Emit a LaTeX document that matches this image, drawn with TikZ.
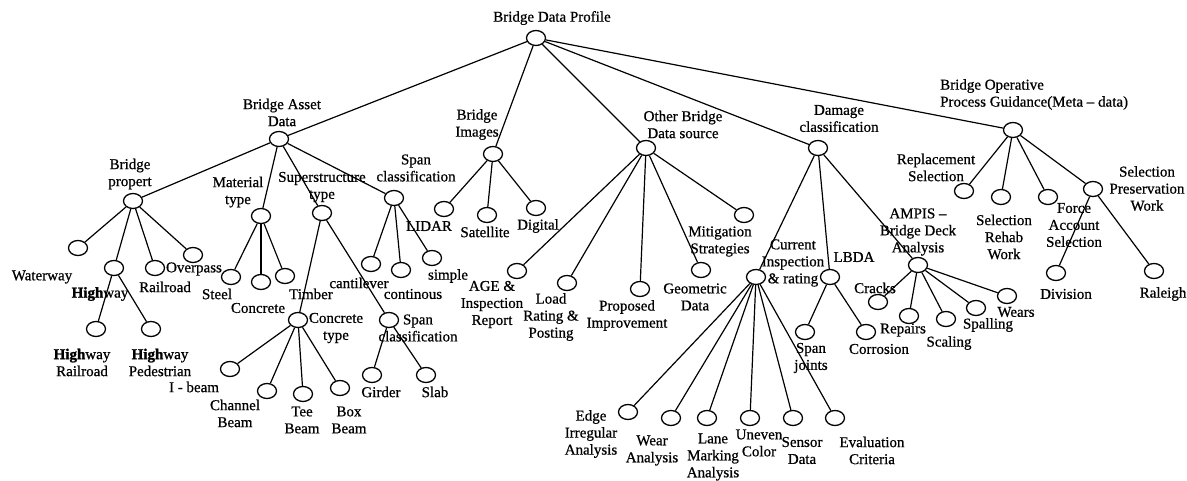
\documentclass[tikz,border=0pt]{standalone}
\usepackage{fontspec}
\setmainfont{Liberation Serif}[FakeBold=0.7, BoldFeatures={FakeBold=1.6}]
\usetikzlibrary{shapes.geometric}
\tikzset{
 dot/.style={draw, ellipse, minimum width=19pt, minimum height=15pt, inner sep=0pt, line width=1.3pt},
 lbl/.style={inner sep=0pt, align=center, font=\fontsize{15}{17}\selectfont},
 link/.style={line width=1.2pt},
}
\begin{document}
\begin{tikzpicture}[x=1pt,y=-1pt]
\useasboundingbox (0,0) rectangle (1187,480);
% circles
\node[dot] (root) at (536,38) {};
\node[dot] (bad) at (279,139) {};
\node[dot] (bp) at (133,201) {};
\node[dot] (ww) at (78,248) {};
\node[dot] (hw) at (114,268) {};
\node[dot] (rr) at (155,268) {};
\node[dot] (op) at (193,255) {};
\node[dot] (hwr) at (96,329) {};
\node[dot] (hwp) at (151,329) {};
\node[dot] (mt) at (261,216) {};
\node[dot] (steel) at (231,277) {};
\node[dot] (conc) at (261,282) {};
\node[dot] (timb) at (285,276) {};
\node[dot] (st) at (322,213) {};
\node[dot] (ct) at (298,320) {};
\node[dot] (sc2) at (389,320) {};
\node[dot] (sc1) at (394,198) {};
\node[dot] (cant) at (371,264) {};
\node[dot] (cont) at (401,270) {};
\node[dot] (simp) at (432,258) {};
\node[dot] (ib) at (230,369) {};
\node[dot] (chb) at (267,391) {};
\node[dot] (teb) at (303,394) {};
\node[dot] (boxb) at (340,388) {};
\node[dot] (gird) at (372,375) {};
\node[dot] (slab) at (426,375) {};
\node[dot] (bi) at (493,154) {};
\node[dot] (lidar) at (444,209) {};
\node[dot] (sat) at (487,215) {};
\node[dot] (dig) at (536,208) {};
\node[dot] (obd) at (646,148) {};
\node[dot] (mit) at (744,215) {};
\node[dot] (age) at (517,271) {};
\node[dot] (load) at (567,283) {};
\node[dot] (prop) at (640,289) {};
\node[dot] (geo) at (701,270) {};
\node[dot] (dc) at (818,148) {};
\node[dot] (cir) at (756,277) {};
\node[dot] (lbda) at (830,277) {};
\node[dot] (ampis) at (918,265) {};
\node[dot] (edge) at (628,412) {};
\node[dot] (wear) at (671,418) {};
\node[dot] (lane) at (707,418) {};
\node[dot] (unev) at (750,418) {};
\node[dot] (sens) at (793,418) {};
\node[dot] (eval) at (835,418) {};
\node[dot] (spj) at (805,332) {};
\node[dot] (corr) at (866,332) {};
\node[dot] (crack) at (878,302) {};
\node[dot] (rep) at (909,316) {};
\node[dot] (scal) at (946,319) {};
\node[dot] (spal) at (976,308) {};
\node[dot] (wears) at (1007,296) {};
\node[dot] (bop) at (1013,130) {};
\node[dot] (repl) at (964,191) {};
\node[dot] (reh) at (1001,197) {};
\node[dot] (force) at (1048,197) {};
\node[dot] (pres) at (1093,189) {};
\node[dot] (div) at (1056,273) {};
\node[dot] (ral) at (1154,271) {};
% connectors
\foreach \a/\b in {root/bad,root/bi,root/obd,root/dc,root/bop,
  bad/bp,bad/mt,bad/st,bad/sc1,
  bp/ww,bp/hw,bp/rr,bp/op,hw/hwr,hw/hwp,
  mt/steel,mt/conc,mt/timb,st/ct,st/sc2,
  sc1/cant,sc1/cont,sc1/simp,
  ct/ib,ct/chb,ct/teb,ct/boxb,sc2/gird,sc2/slab,
  bi/lidar,bi/sat,bi/dig,
  obd/age,obd/load,obd/prop,obd/geo,obd/mit,
  dc/cir,dc/lbda,dc/ampis,
  cir/edge,cir/wear,cir/lane,cir/unev,cir/sens,cir/eval,
  lbda/spj,lbda/corr,
  ampis/crack,ampis/rep,ampis/scal,ampis/spal,ampis/wears,
  bop/repl,bop/reh,bop/force,bop/pres,pres/div,pres/ral}
  \draw[link] (\a) -- (\b);
% labels
\node[lbl] (t-root) at (552,18) {Bridge Data Profile};
\node[lbl] (t-bad) at (282,112.5) {Bridge Asset\\Data};
\node[lbl] (t-bp) at (130,174) {Bridge\\propert};
\node[lbl] (t-ww) at (42,277) {Waterway};
\node[lbl] (t-hw) at (100,294) {\textbf{High}way};
\node[lbl] (t-rr) at (165,287) {Railroad};
\node[lbl] (t-op) at (194,269) {Overpass};
\node[lbl] (t-hwr) at (82,362.5) {\textbf{High}way\\Railroad};
\node[lbl] (t-hwp) at (160,362.5) {\textbf{High}way\\Pedestrian};
\node[lbl] (t-mt) at (238,192) {Material\\type};
\node[lbl] (t-st) at (322,187) {Superstructure\\type};
\node[lbl] (t-sc1) at (416,168) {Span\\classification};
\node[lbl] (t-steel) at (217,294) {Steel};
\node[lbl] (t-conc) at (258,308) {Concrete};
\node[lbl] (t-timb) at (311,294) {Timber};
\node[lbl] (t-ct) at (336,328) {Concrete\\type};
\node[lbl] (t-sc2) at (418,328) {Span\\classification};
\node[lbl] (t-cant) at (359,283) {cantilever};
\node[lbl] (t-cont) at (413,294) {continous};
\node[lbl] (t-simp) at (448,276) {simple};
\node[lbl] (t-ib) at (194,387) {I - beam};
\node[lbl] (t-chb) at (235,413.5) {Channel\\Beam};
\node[lbl] (t-teb) at (302,420) {Tee\\Beam};
\node[lbl] (t-boxb) at (349,420) {Box\\Beam};
\node[lbl] (t-gird) at (381,392) {Girder};
\node[lbl] (t-slab) at (435,392) {Slab};
\node[lbl] (t-bi) at (477,124.5) {Bridge\\Images};
\node[lbl] (t-lidar) at (429,226) {LIDAR};
\node[lbl] (t-sat) at (485,232) {Satellite};
\node[lbl] (t-dig) at (538,226) {Digital};
\node[lbl] (t-obd) at (683,124.5) {Other Bridge\\Data source};
\node[lbl] (t-mit) at (720,241.5) {Mitigation\\Strategies};
\node[lbl] (t-age) at (492,304.5) {AGE \&\\Inspection\\Report};
\node[lbl] (t-load) at (551,317) {Load\\Rating \&\\Posting};
\node[lbl] (t-prop) at (627,315.5) {Proposed\\Improvement};
\node[lbl] (t-geo) at (695,297) {Geometric\\Data};
\node[lbl] (t-dc) at (839,118.5) {Damage\\classification};
\node[lbl] (t-cir) at (793,263) {Current\\Inspection\\\& rating};
\node[lbl] (t-lbda) at (854,257) {LBDA};
\node[lbl] (t-ampis) at (918,232) {AMPIS –\\Bridge Deck\\Analysis};
\node[lbl] (t-edge) at (591,434) {Edge\\Irregular\\Analysis};
\node[lbl] (t-wear) at (652,450.5) {Wear\\Analysis};
\node[lbl] (t-lane) at (713,457) {Lane\\Marking\\Analysis};
\node[lbl] (t-unev) at (759,443) {Uneven\\Color};
\node[lbl] (t-sens) at (802,450.5) {Sensor\\Data};
\node[lbl] (t-eval) at (872,450.5) {Evaluation\\Criteria};
\node[lbl] (t-spj) at (811,358) {Span\\joints};
\node[lbl] (t-corr) at (879,349) {Corrosion};
\node[lbl] (t-crack) at (875,288) {Cracks};
\node[lbl] (t-rep) at (903,330) {Repairs};
\node[lbl] (t-scal) at (949,343) {Scaling};
\node[lbl] (t-spal) at (988,325) {Spalling};
\node[lbl] (t-wears) at (1016,312) {Wears};
\node[lbl, anchor=west, align=left] (t-bop) at (940,94.5) {Bridge Operative\\Process Guidance(Meta – data)};
\node[lbl] (t-repl) at (936,167.5) {Replacement\\Selection};
\node[lbl] (t-reh) at (1004,237) {Selection\\Rehab\\Work};
\node[lbl] (t-force) at (1074,225) {Force\\Account\\Selection};
\node[lbl] (t-pres) at (1147,188.5) {Selection\\Preservation\\Work};
\node[lbl] (t-div) at (1066,294) {Division};
\node[lbl] (t-ral) at (1163,294) {Raleigh};
\end{tikzpicture}
\end{document}
